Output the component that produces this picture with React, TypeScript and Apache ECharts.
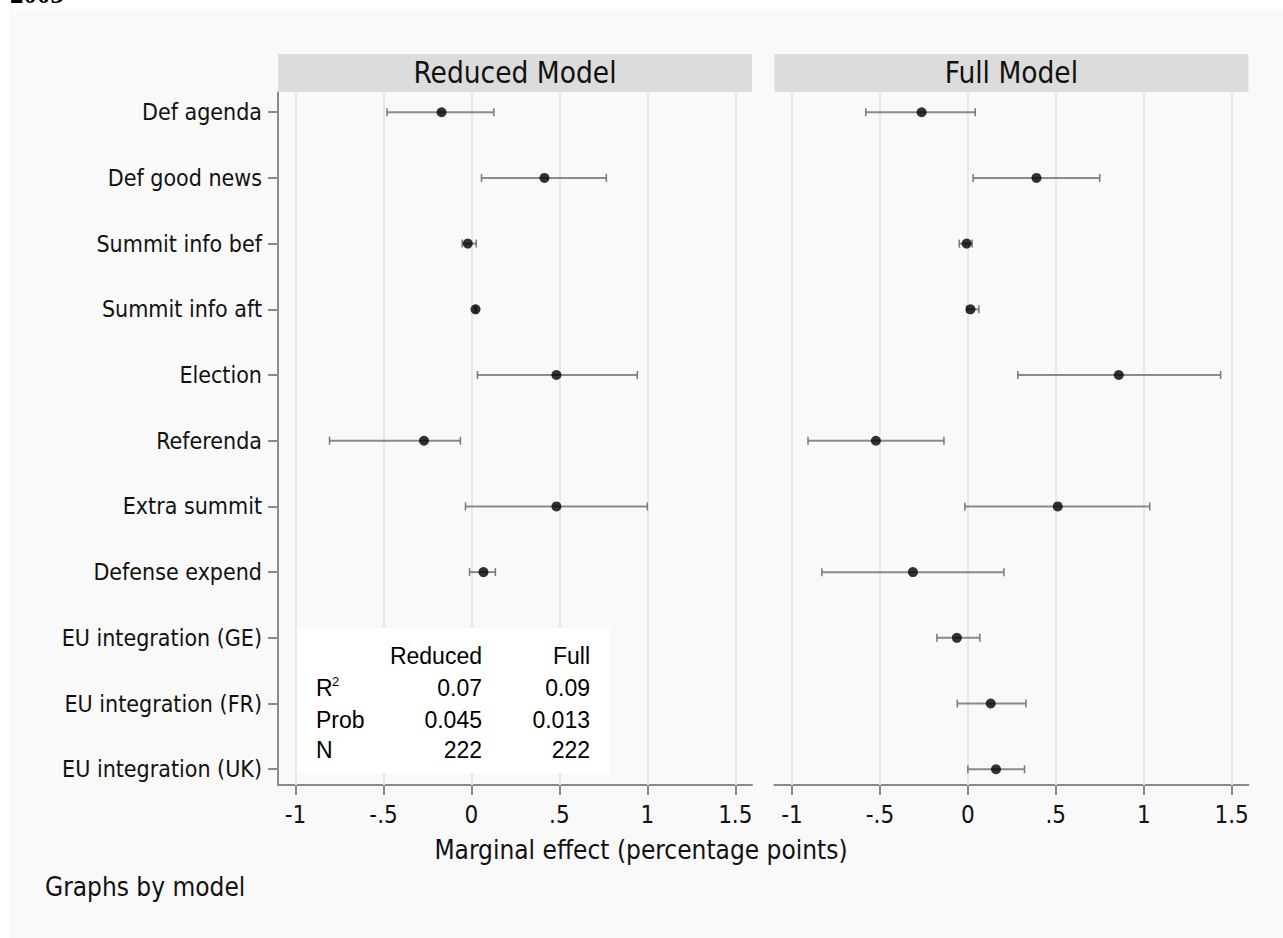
import React, { useEffect, useRef } from "react";
import * as echarts from "echarts";

const categories = [
  "Def agenda",
  "Def good news",
  "Summit info bef",
  "Summit info aft",
  "Election",
  "Referenda",
  "Extra summit",
  "Defense expend",
  "EU integration (GE)",
  "EU integration (FR)",
  "EU integration (UK)",
];

// Reduced model: estimates and 95% interval bounds (null = not in model)
const reducedEst = [-0.17, 0.415, -0.021, 0.023, 0.483, -0.27, 0.483, 0.068, null, null, null];
const reducedLo = [-0.48, 0.057, -0.053, 0.018, 0.034, -0.807, -0.034, -0.011, null, null, null];
const reducedHi = [0.127, 0.767, 0.027, 0.028, 0.943, -0.063, 1.0, 0.136, null, null, null];

// Full model
const fullEst = [-0.263, 0.39, -0.007, 0.015, 0.858, -0.523, 0.511, -0.3125, -0.0625, 0.13, 0.16];
const fullLo = [-0.58, 0.03, -0.049, -0.007, 0.284, -0.909, -0.017, -0.83, -0.176, -0.06, 0.0];
const fullHi = [0.042, 0.75, 0.024, 0.0625, 1.437, -0.136, 1.034, 0.205, 0.068, 0.33, 0.322];

const panelTitles = ["Reduced Model", "Full Model"];
const xTicks = [-1, -0.5, 0, 0.5, 1, 1.5];
const xTickLabels = ["-1", "-.5", "0", ".5", "1", "1.5"];
const xTitle = "Marginal effect (percentage points)";
const note = "Graphs by model";

const statHeaders = ["Reduced", "Full"];
const statRows = ["R", "Prob", "N"];
const statReduced = ["0.07", "0.045", "222"];
const statFull = ["0.09", "0.013", "222"];

const FONT = "'DejaVu Sans Condensed', 'DejaVu Sans', sans-serif";
const TABLE_FONT = "'Liberation Sans', Arial, sans-serif";

export default function App() {
  const ref = useRef<HTMLDivElement>(null);

  useEffect(() => {
    if (!ref.current) return;
    const chart = echarts.init(ref.current, null, { renderer: "svg" });

    const gridTop = 83.5;
    const gridH = 692.5;
    const gridW = 474;
    const gridLefts = [269, 765.4];
    const idx = categories.map((_, i) => i);

    const models = [
      { est: reducedEst, lo: reducedLo, hi: reducedHi },
      { est: fullEst, lo: fullLo, hi: fullHi },
    ];

    const axisColor = "#8a8a8a";

    const xAxis = gridLefts.map((_, i) => ({
      type: "value",
      gridIndex: i,
      min: -1.1,
      max: 1.595,
      axisLine: { show: true, onZero: false, lineStyle: { color: axisColor, width: 2 } },
      axisTick: {
        show: true,
        length: 10,
        customValues: xTicks,
        lineStyle: { color: axisColor, width: 2 },
      },
      axisLabel: {
        customValues: xTicks,
        formatter: (v: number) => {
          const k = xTicks.findIndex((t) => Math.abs(t - v) < 1e-6);
          return k >= 0 ? xTickLabels[k] : "";
        },
        fontFamily: FONT,
        fontSize: 24,
        color: "#111",
        margin: 18,
      },
      splitLine: { show: false },
    }));

    const yAxis = [
      {
        type: "value",
        gridIndex: 0,
        inverse: true,
        min: -0.3,
        max: 10.24,
        axisLine: { show: true, onZero: false, lineStyle: { color: axisColor, width: 2 } },
        axisTick: { show: true, length: 10, customValues: idx, lineStyle: { color: axisColor, width: 2 } },
        axisLabel: {
          customValues: idx,
          formatter: (v: number) => categories[Math.round(v)] ?? "",
          fontFamily: FONT,
          fontSize: 23,
          color: "#111",
          margin: 16,
        },
        splitLine: { show: false },
      },
      {
        type: "value",
        gridIndex: 1,
        inverse: true,
        min: -0.3,
        max: 10.24,
        axisLine: { show: false, onZero: false },
        axisTick: { show: false },
        axisLabel: { show: false },
        splitLine: { show: false },
      },
    ];

    const series: any[] = [];
    models.forEach((m, p) => {
      const barData: number[][] = [];
      const dotData: number[][] = [];
      m.est.forEach((e, i) => {
        if (e === null || m.lo[i] === null || m.hi[i] === null) return;
        barData.push([m.lo[i] as number, m.hi[i] as number, i]);
        dotData.push([e as number, i]);
      });
      // gridlines
      series.push({
        type: "scatter",
        xAxisIndex: p,
        yAxisIndex: p,
        data: [],
        silent: true,
        markLine: {
          silent: true,
          symbol: ["none", "none"],
          label: { show: false },
          z: 1,
          lineStyle: { color: "#e8e8e8", width: 2, type: "solid" },
          emphasis: { disabled: true },
          data: xTicks.map((t) => ({ xAxis: t })),
        },
      });
      series.push({
        type: "custom",
        xAxisIndex: p,
        yAxisIndex: p,
        z: 3,
        silent: true,
        encode: { x: [0, 1], y: 2 },
        data: barData,
        renderItem: (params: any, api: any) => {
          const y = api.value(2);
          const a = api.coord([api.value(0), y]);
          const b = api.coord([api.value(1), y]);
          const st = { stroke: "#8a8a8a", lineWidth: 2 };
          const cap = 4;
          return {
            type: "group",
            children: [
              { type: "line", shape: { x1: a[0], y1: a[1], x2: b[0], y2: b[1] }, style: st },
              { type: "line", shape: { x1: a[0], y1: a[1] - cap, x2: a[0], y2: a[1] + cap }, style: { stroke: "#777", lineWidth: 1.5 } },
              { type: "line", shape: { x1: b[0], y1: b[1] - cap, x2: b[0], y2: b[1] + cap }, style: { stroke: "#777", lineWidth: 1.5 } },
            ],
          };
        },
      });
      series.push({
        type: "scatter",
        xAxisIndex: p,
        yAxisIndex: p,
        z: 4,
        silent: true,
        symbol: "circle",
        symbolSize: 10,
        itemStyle: { color: "#000" },
        data: dotData,
      });
    });

    const graphic: any[] = [];
    gridLefts.forEach((l, p) => {
      graphic.push({
        type: "rect",
        shape: { x: l, y: 45, width: gridW, height: 38 },
        style: { fill: "#dcdcdc" },
        z: 5,
      });
      graphic.push({
        type: "text",
        x: l + gridW / 2,
        y: 64,
        z: 6,
        style: {
          text: panelTitles[p],
          fontFamily: FONT,
          fontSize: 29.5,
          fill: "#111",
          align: "center",
          verticalAlign: "middle",
        },
      });
    });

    // inset statistics box
    graphic.push({
      type: "rect",
      shape: { x: 288, y: 619, width: 313, height: 145 },
      style: { fill: "#ffffff" },
      z: 10,
    });
    const rowsY = [646.5, 679, 710.7, 741];
    const colRight = [473, 581];
    statHeaders.forEach((h, c) => {
      graphic.push({
        type: "text",
        x: colRight[c],
        y: rowsY[0],
        z: 11,
        style: { text: h, fontFamily: TABLE_FONT, fontSize: 23, fill: "#000", align: "right", verticalAlign: "middle" },
      });
    });
    statRows.forEach((r, k) => {
      const y = rowsY[k + 1];
      graphic.push({
        type: "text",
        x: 307,
        y,
        z: 11,
        style: { text: r, fontFamily: TABLE_FONT, fontSize: 23, fill: "#000", align: "left", verticalAlign: "middle" },
      });
      graphic.push({
        type: "text",
        x: colRight[0],
        y,
        z: 11,
        style: { text: statReduced[k], fontFamily: TABLE_FONT, fontSize: 23, fill: "#000", align: "right", verticalAlign: "middle" },
      });
      graphic.push({
        type: "text",
        x: colRight[1],
        y,
        z: 11,
        style: { text: statFull[k], fontFamily: TABLE_FONT, fontSize: 23, fill: "#000", align: "right", verticalAlign: "middle" },
      });
    });
    graphic.push({
      type: "text",
      x: 323,
      y: 672.5,
      z: 11,
      style: { text: "2", fontFamily: TABLE_FONT, fontSize: 13, fill: "#000", align: "left", verticalAlign: "middle" },
    });

    graphic.push({
      type: "text",
      x: 632,
      y: 841,
      z: 6,
      style: { text: xTitle, fontFamily: FONT, fontSize: 26, fill: "#111", align: "center", verticalAlign: "middle" },
    });
    graphic.push({
      type: "text",
      x: 36,
      y: 878,
      z: 6,
      style: { text: note, fontFamily: FONT, fontSize: 26, fill: "#111", align: "left", verticalAlign: "middle" },
    });

    chart.setOption({
      animation: false,
      backgroundColor: "#f9f9f9",
      grid: gridLefts.map((l) => ({ left: l, top: gridTop, width: gridW, height: gridH, containLabel: false })),
      xAxis,
      yAxis,
      series,
      graphic,
    });

    return () => chart.dispose();
  }, []);

  return (
    <>
      <div
        style={{
          position: "fixed",
          left: 10,
          top: -19,
          fontFamily: "'Liberation Serif', serif",
          fontWeight: "bold",
          fontSize: 27,
          lineHeight: "27px",
          color: "#000",
        }}
      >
        2003
      </div>
      <div
        ref={ref}
        style={{ position: "fixed", left: 9, top: 9, width: 1274, height: 929 }}
      />
    </>
  );
}
